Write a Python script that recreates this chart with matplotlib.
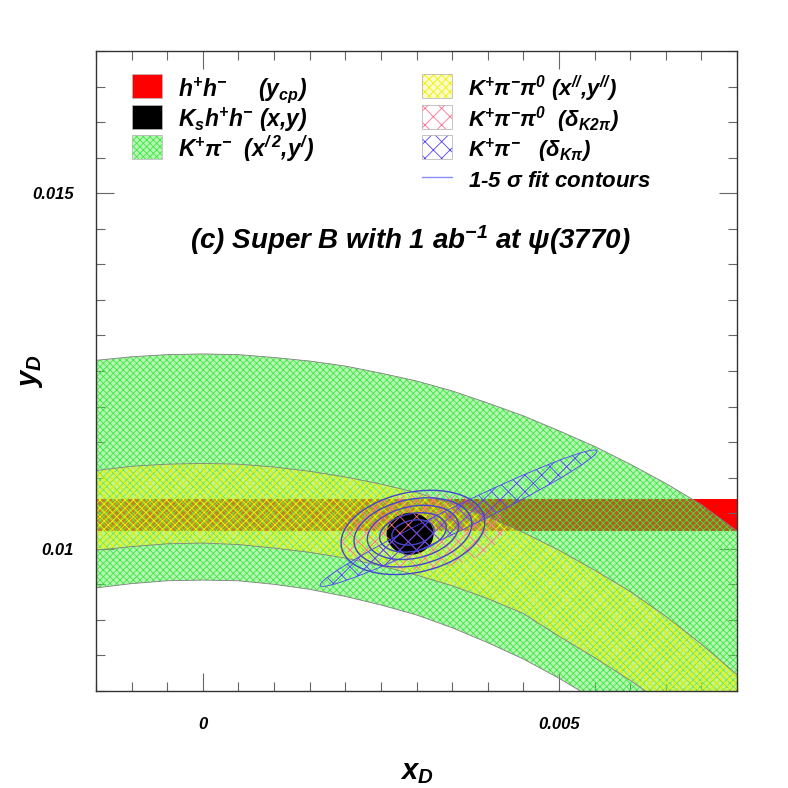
"""x_D vs y_D constraints: Super B with 1 ab^-1 at psi(3770)."""

import matplotlib
matplotlib.use("Agg")
import matplotlib.pyplot as plt
from matplotlib.lines import Line2D
from matplotlib.patches import Ellipse, Polygon, Rectangle
from matplotlib.ticker import FuncFormatter, MultipleLocator

# band edges, y_D at each x_D
BAND_X = [-0.0015, -0.0010, -0.0005, 0.0000, 0.0005, 0.0010, 0.0015,
          0.0020, 0.0025, 0.0030, 0.0035, 0.0040, 0.0045, 0.0050,
          0.0055, 0.0060, 0.0065, 0.0070, 0.0075]
GREEN_UPPER = [0.01265, 0.01270, 0.01273, 0.01274, 0.01273, 0.01269,
               0.01264, 0.01257, 0.01247, 0.01236, 0.01222, 0.01205,
               0.01187, 0.01166, 0.01144, 0.01119, 0.01092, 0.01062,
               0.01025]
GREEN_LOWER = [0.00945, 0.00951, 0.00955, 0.00956, 0.00955, 0.00950,
               0.00943, 0.00933, 0.00921, 0.00907, 0.00889, 0.00868,
               0.00845, 0.00818, 0.00788, 0.00756, 0.00720, 0.00682,
               0.00640]
YELLOW_UPPER = [0.01110, 0.01116, 0.01119, 0.01120, 0.01119, 0.01115,
                0.01109, 0.01101, 0.01091, 0.01079, 0.01063, 0.01045,
                0.01023, 0.00998, 0.00970, 0.00940, 0.00905, 0.00866,
                0.00823]
YELLOW_LOWER = [0.00998, 0.01003, 0.01007, 0.01008, 0.01006, 0.01001,
                0.00995, 0.00987, 0.00976, 0.00963, 0.00948, 0.00930,
                0.00909, 0.00877, 0.00847, 0.00815, 0.00780, 0.00740,
                0.00700]

# h+h- (y_cp) band
YCP_RANGE = (0.01025, 0.01070)

# Ks h+h- (x, y): centre, full width, full height
KSHH_CENTER = (0.00291, 0.01021)
KSHH_SIZE = (0.00066, 0.00059)

# K+pi-pi0 strong phase
K2PI_CENTER = (0.00308, 0.01024)
K2PI_SIZE = (0.00230, 0.00107)
K2PI_ANGLE = 4

# K+pi- strong phase
KPI_CENTER = (0.00359, 0.01043)
KPI_SIZE = (0.00432, 0.00034)
KPI_ANGLE = 26

# combined fit, 1-5 sigma
FIT_CENTER = (0.00295, 0.01023)
FIT_WIDTHS = [0.00060, 0.00095, 0.00130, 0.00168, 0.00205]
FIT_HEIGHTS = [0.00034, 0.00053, 0.00073, 0.00093, 0.00113]
FIT_ANGLE = 12

XLIM = (-0.0015, 0.0075)
YLIM = (0.008, 0.017)

LEFT_LABELS = [
    r"h$^{+}$h$^{-}$     (y$_{cp}$)",
    r"K$_{s}$h$^{+}$h$^{-}$ (x,y)",
    r"K$^{+}\mathsf{\pi}^{-}$  (x$^{/\,2}$,y$^{/}$)",
]
RIGHT_LABELS = [
    r"K$^{+}\mathsf{\pi}^{-}\mathsf{\pi}^{0}$ (x$^{//}$,y$^{//}$)",
    r"K$^{+}\mathsf{\pi}^{-}\mathsf{\pi}^{0}$  ($\mathsf{\delta}_{K2\mathsf{\pi}}$)",
    r"K$^{+}\mathsf{\pi}^{-}$   ($\mathsf{\delta}_{K\mathsf{\pi}}$)",
    r"1-5 $\mathsf{\sigma}$ fit contours",
]
TITLE = r"(c) Super B with 1 ab$^{-1}$ at $\mathsf{\psi}$(3770)"

RED = "#ff0000"
GREEN = "#3ee83e"
GREEN_FACE = (0.3, 0.9, 0.3, 0.4)
YELLOW = "#f0f000"
YELLOW_FACE = (0.95, 0.95, 0.2, 0.25)
PINK = "#ff7090"
BLUE = "#5040ff"
CONTOUR = "#4444cc"

plt.rcParams.update({
    "font.family": "Liberation Sans",
    "font.weight": "bold",
    "font.style": "italic",
    "mathtext.fontset": "custom",
    "mathtext.rm": "Liberation Sans:italic:bold",
    "mathtext.it": "Liberation Sans:italic:bold",
    "mathtext.bf": "Liberation Sans:italic:bold",
    "mathtext.sf": "Liberation Sans",
    "hatch.linewidth": 0.6,
})


def band(ax, upper, lower, color, face, hatch, z):
    pts = list(zip(BAND_X, upper)) + list(zip(BAND_X[::-1], lower[::-1]))
    ax.add_patch(Polygon(pts, closed=True, facecolor=face, edgecolor=color,
                         hatch=hatch, lw=0, zorder=z))
    ax.plot(BAND_X, upper, color="#808080", lw=0.6, zorder=z)
    ax.plot(BAND_X, lower, color="#808080", lw=0.6, zorder=z)


def legend_box(ax, x, y, color, hatch=None, face="none"):
    w, h = 0.047, 0.0375
    if hatch is None:
        ax.add_patch(Rectangle((x, y - h / 2), w, h, transform=ax.transAxes,
                               facecolor=color, edgecolor="#bbbbbb", lw=0.5))
    else:
        ax.add_patch(Rectangle((x, y - h / 2), w, h, transform=ax.transAxes,
                               facecolor=face, edgecolor=color, hatch=hatch,
                               lw=0))
        ax.add_patch(Rectangle((x, y - h / 2), w, h, transform=ax.transAxes,
                               facecolor="none", edgecolor="#bbbbbb", lw=0.6))


def main():
    fig = plt.figure(figsize=(7.88, 7.88), dpi=100)
    ax = fig.add_axes([96 / 788, 97 / 788, 641 / 788, 640 / 788])
    ax.set_xlim(*XLIM)
    ax.set_ylim(*YLIM)

    ax.axhspan(*YCP_RANGE, color=RED, lw=0, zorder=1)
    band(ax, GREEN_UPPER, GREEN_LOWER, GREEN, GREEN_FACE, "xxxxx", 2)
    band(ax, YELLOW_UPPER, YELLOW_LOWER, YELLOW, YELLOW_FACE, "xxxx", 3)
    ax.add_patch(Ellipse(KSHH_CENTER, *KSHH_SIZE, color="black", lw=0,
                         zorder=3.5))
    ax.add_patch(Ellipse(K2PI_CENTER, *K2PI_SIZE, angle=K2PI_ANGLE,
                         facecolor="none", edgecolor=PINK, hatch="xx", lw=0,
                         zorder=4))
    ax.add_patch(Ellipse(KPI_CENTER, *KPI_SIZE, angle=KPI_ANGLE,
                         facecolor="none", edgecolor=BLUE, hatch="xx", lw=0.6,
                         zorder=5))
    for w, h in zip(FIT_WIDTHS, FIT_HEIGHTS):
        ax.add_patch(Ellipse(FIT_CENTER, w, h, angle=FIT_ANGLE,
                             facecolor="none", edgecolor=CONTOUR, lw=1.0,
                             zorder=6))

    # legend, two columns
    rows = [0.9453, 0.8969, 0.8500, 0.8031]
    left_keys = [(RED, None, "none"), ("black", None, "none"),
                 (GREEN, "xxxxx", GREEN_FACE)]
    for y, lab, (col, hatch, face) in zip(rows, LEFT_LABELS, left_keys):
        legend_box(ax, 0.0562, y, col, hatch, face)
        ax.text(0.1279, y - 0.0155, lab, transform=ax.transAxes,
                fontsize=16.5, va="baseline")
    right_keys = [(YELLOW, "xxxx", YELLOW_FACE), (PINK, "xx", "none"),
                  (BLUE, "xx", "none")]
    for y, (col, hatch, face) in zip(rows, right_keys):
        legend_box(ax, 0.5086, y, col, hatch, face)
    for y, lab in zip(rows, RIGHT_LABELS):
        ax.text(0.5803, y - 0.0155, lab, transform=ax.transAxes,
                fontsize=16, va="baseline")
    ax.add_line(Line2D([0.5086, 0.5556], [rows[3], rows[3]],
                       transform=ax.transAxes, color="#8a8aff", lw=1.0))

    ax.text(0.49, 0.705, TITLE, transform=ax.transAxes, fontsize=20,
            ha="center", va="center")

    ax.xaxis.set_major_locator(MultipleLocator(0.005))
    ax.xaxis.set_minor_locator(MultipleLocator(0.0005))
    ax.yaxis.set_major_locator(MultipleLocator(0.005))
    ax.yaxis.set_minor_locator(MultipleLocator(0.0005))
    fmt = FuncFormatter(lambda v, _: f"{v + 0:g}")
    ax.xaxis.set_major_formatter(fmt)
    ax.yaxis.set_major_formatter(fmt)
    ax.tick_params(which="both", direction="in", top=True, right=True,
                   color="#666666", width=0.8, labelsize=12)
    ax.tick_params(which="major", length=13)
    ax.tick_params(which="minor", length=6.5)
    ax.tick_params(axis="x", pad=19)
    ax.tick_params(axis="y", pad=16)
    for s in ax.spines.values():
        s.set_color("#333333")
        s.set_linewidth(1.0)
        s.set_zorder(10)

    ax.set_xlabel(r"$x_{D}$", fontsize=21)
    ax.set_ylabel(r"$y_{D}$", fontsize=21)
    ax.xaxis.set_label_coords(0.5, -0.105)
    ax.yaxis.set_label_coords(-0.08, 0.5)

    fig.savefig("out.png", dpi=100)
    plt.close(fig)


if __name__ == "__main__":
    main()
